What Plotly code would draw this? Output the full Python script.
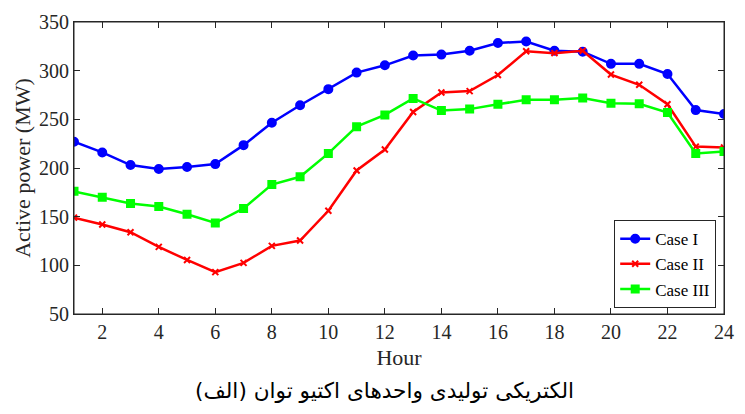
import plotly.graph_objects as go

hours = list(range(1, 25))
case1 = [227, 216, 203, 199, 201, 204, 223.5, 246.5, 264.5, 281, 298, 305.5, 315.5, 316.5, 320.5, 328.5, 330,
         320.5, 319.5, 307, 307, 296.5, 259.5, 255.5]
case2 = [149, 142, 134, 119, 105.5, 93, 102.5, 120, 125.5, 156, 197.5, 219, 257.5, 277.5, 279, 295.5, 320,
         318, 320.5, 296, 285.5, 265.5, 222, 221]
case3 = [176, 170, 163.5, 160.5, 152.5, 143.5, 158.5, 183, 191, 215, 242.5, 254.5, 271.5, 259, 260.5, 265.5, 270,
         270, 272, 266.5, 266, 257, 215, 217]
names = ["Case I", "Case II", "Case III"]
colors = ["#0000FF", "#FF0000", "#00FF00"]
symbols = ["circle", "x-thin", "square"]
sizes = [8, 6, 7]
xticks = list(range(2, 25, 2))
yticks = list(range(50, 351, 50))
caption_words = ["(الف)", "توان", "اکتیو", "واحدهای", "تولیدی", "الکتریکی"]

fig = go.Figure()
for ys, n, c, s, sz in zip([case1, case2, case3], names, colors, symbols, sizes):
    fig.add_trace(go.Scatter(
        x=hours, y=ys, name=n, mode="lines+markers",
        line=dict(color=c, width=2.5),
        marker=dict(symbol=s, size=sz, color=c, line=dict(color=c, width=2)),
    ))

axis_common = dict(showline=True, linecolor="#262626", linewidth=1, mirror="ticks",
                   ticks="inside", ticklen=6, tickcolor="#262626", showgrid=False, zeroline=False,
                   tickfont=dict(family="Liberation Serif", size=20, color="#262626"))
fig.update_xaxes(range=[1, 24], tickvals=xticks,
                 title=dict(text="Hour", font=dict(family="Liberation Serif", size=22, color="#262626"), standoff=7),
                 **axis_common)
fig.update_yaxes(range=[50, 350], tickvals=yticks,
                 title=dict(text="Active power (MW)", font=dict(family="Liberation Serif", size=22, color="#262626"), standoff=2),
                 **axis_common)

# plot frame drawn on top as well
fig.add_shape(type="rect", xref="paper", yref="paper", x0=0, x1=1, y0=0, y1=1,
              line=dict(color="#262626", width=1), fillcolor="rgba(0,0,0,0)", layer="above")

LRM = "\u200e"
caption = LRM + (LRM + " ").join(caption_words) + LRM

fig.update_layout(
    width=745, height=414,
    margin=dict(l=74, r=11, t=16, b=100),
    plot_bgcolor="white", paper_bgcolor="white",
    showlegend=True,
    legend=dict(x=0.988, y=0.02, xanchor="right", yanchor="bottom",
                bgcolor="white", bordercolor="#262626", borderwidth=1,
                font=dict(family="Liberation Serif", size=17, color="black"),
                tracegroupgap=0, itemwidth=30),
    annotations=[dict(text=caption, xref="paper", yref="paper",
                      x=0.478, y=-0.262, xanchor="center", yanchor="middle", showarrow=False,
                      font=dict(family="DejaVu Sans", size=21.6, color="black"))],
)

fig.write_html("out.html", config={"displayModeBar": False},
               post_script="document.body.style.margin='0';document.body.style.overflow='hidden';")
